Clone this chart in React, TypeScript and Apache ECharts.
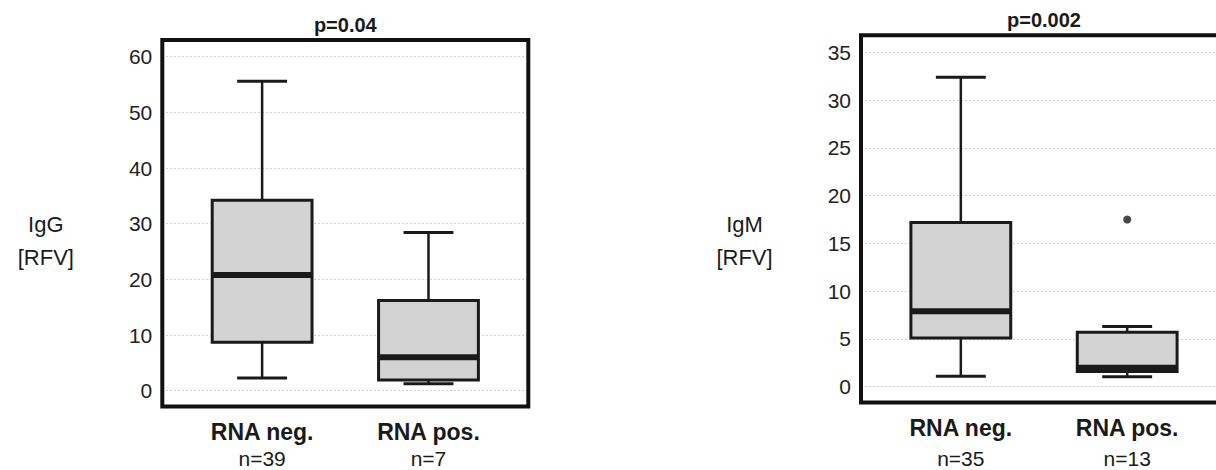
import React, { useEffect, useRef } from "react";
import * as echarts from "echarts";

// ---------- data ----------
const categories = ["RNA neg.", "RNA pos."];
const categoryPositions = [1, 2];
const pValues = ["p=0.04", "p=0.002"];
const yLabels = ["IgG\n[RFV]", "IgM\n[RFV]"];

const igGCounts = [39, 7];
const igMCounts = [35, 13];

// [min, Q1, median, Q3, max]
const igGNeg = [2.3, 8.7, 20.8, 34.2, 55.6];
const igGPos = [1.25, 1.9, 6.0, 16.2, 28.4];
const igMNeg = [1.1, 5.1, 7.9, 17.2, 32.4];
const igMPos = [1.05, 1.6, 1.98, 5.7, 6.3];

const igMPosOutliers = [17.5];

const igGTicks = [0, 10, 20, 30, 40, 50, 60];
const igMTicks = [0, 5, 10, 15, 20, 25, 30, 35];

// ---------- style / layout ----------
const FONT = "'Liberation Sans', Arial, Helvetica, sans-serif";
const INK = "#1a1a1a";
const BOX_FILL = "#d3d3d3";
const BOX_W = 0.6; // in x-axis units
const CAP_W = 0.3;

const panels = [
  { left: 162.3, top: 40, width: 366, height: 366.5, yMin: -2.84, yMax: 63.0, countLineHeight: 22 },
  { left: 861, top: 35.3, width: 366, height: 367.2, yMin: -1.65, yMax: 36.78, countLineHeight: 30 },
];

function renderBox(_params: any, api: any) {
  const x = api.value(0);
  const vals = [1, 2, 3, 4, 5].map((d) => api.value(d));
  const ys = vals.map((v) => api.coord([x, v])[1]);
  const cx = api.coord([x, vals[0]])[0];
  const bw = api.size([BOX_W, 0])[0];
  const cw = api.size([CAP_W, 0])[0];
  const [yMin, yQ1, yMed, yQ3, yMax] = ys;
  const whisker = { stroke: INK, lineWidth: 2.5 };
  const cap = { stroke: INK, lineWidth: 3 };
  return {
    type: "group",
    children: [
      { type: "line", shape: { x1: cx, y1: yMax, x2: cx, y2: yQ3 }, style: whisker },
      { type: "line", shape: { x1: cx, y1: yQ1, x2: cx, y2: yMin }, style: whisker },
      { type: "line", shape: { x1: cx - cw / 2, y1: yMax, x2: cx + cw / 2, y2: yMax }, style: cap },
      { type: "line", shape: { x1: cx - cw / 2, y1: yMin, x2: cx + cw / 2, y2: yMin }, style: cap },
      {
        type: "rect",
        shape: { x: cx - bw / 2, y: yQ3, width: bw, height: yQ1 - yQ3 },
        style: { fill: BOX_FILL, stroke: INK, lineWidth: 3 },
      },
      {
        type: "line",
        shape: { x1: cx - bw / 2, y1: yMed, x2: cx + bw / 2, y2: yMed },
        style: { stroke: INK, lineWidth: 6 },
      },
    ],
  };
}

export default function App() {
  const ref = useRef<HTMLDivElement>(null);

  useEffect(() => {
    if (!ref.current) return;
    const chart = echarts.init(ref.current, undefined, { renderer: "svg" });

    const counts = [igGCounts, igMCounts];
    const ticks = [igGTicks, igMTicks];
    const boxData = [
      [
        [categoryPositions[0], ...igGNeg],
        [categoryPositions[1], ...igGPos],
      ],
      [
        [categoryPositions[0], ...igMNeg],
        [categoryPositions[1], ...igMPos],
      ],
    ];

    const option: any = {
      animation: false,
      backgroundColor: "#ffffff",
      textStyle: { fontFamily: FONT, color: INK },
      grid: panels.map((p) => ({
        left: p.left,
        top: p.top,
        width: p.width,
        height: p.height,
        show: true,
        borderColor: "#111111",
        borderWidth: 4,
        backgroundColor: "transparent",
        containLabel: false,
        outerBoundsMode: "none",
        z: 10,
      })),
      xAxis: panels.map((p, i) => ({
        type: "value",
        gridIndex: i,
        min: 0.4,
        max: 2.6,
        axisLine: { show: false },
        axisTick: { show: false },
        splitLine: { show: false },
        axisLabel: {
          customValues: categoryPositions,
          margin: 10.5,
          formatter: (v: number) => {
            const k = categoryPositions.indexOf(Math.round(v));
            return `{a|${categories[k]}}\n{b|n=${counts[i][k]}}`;
          },
          rich: {
            a: { fontFamily: FONT, fontSize: 23, fontWeight: "bold", lineHeight: 30, color: INK },
            b: { fontFamily: FONT, fontSize: 21, lineHeight: p.countLineHeight, color: INK },
          },
        },
      })),
      yAxis: panels.map((p, i) => ({
        type: "value",
        gridIndex: i,
        min: p.yMin,
        max: p.yMax,
        axisLine: { show: false },
        axisTick: { show: false, customValues: ticks[i] },
        axisLabel: {
          customValues: ticks[i],
          fontFamily: FONT,
          fontSize: 21,
          color: "#222222",
          margin: 10,
        },
        splitLine: {
          show: true,
          lineStyle: { type: [1.5, 2.5], color: "#c4c4c4", width: 1 },
        },
      })),
      series: [
        {
          type: "custom",
          xAxisIndex: 0,
          yAxisIndex: 0,
          renderItem: renderBox,
          encode: { x: 0, y: [1, 2, 3, 4, 5] },
          data: boxData[0],
          z: 2,
        },
        {
          type: "custom",
          xAxisIndex: 1,
          yAxisIndex: 1,
          renderItem: renderBox,
          encode: { x: 0, y: [1, 2, 3, 4, 5] },
          data: boxData[1],
          z: 2,
        },
        {
          type: "scatter",
          xAxisIndex: 1,
          yAxisIndex: 1,
          symbol: "circle",
          symbolSize: 8,
          itemStyle: { color: INK },
          data: igMPosOutliers.map((v) => [categoryPositions[1], v]),
          z: 3,
        },
      ],
      graphic: panels.flatMap((p, i) => [
        {
          type: "text",
          x: p.left + p.width / 2,
          y: p.top - 15,
          style: {
            text: pValues[i],
            fontFamily: FONT,
            fontSize: 20,
            fontWeight: "bold",
            fill: INK,
            align: "center",
            textAlign: "center",
            verticalAlign: "middle",
            textVerticalAlign: "middle",
          },
        },
        {
          type: "text",
          x: p.left - 116.5,
          y: p.top + p.height / 2 + (i === 0 ? 18 : 22),
          style: {
            text: yLabels[i],
            fontFamily: FONT,
            fontSize: 22,
            lineHeight: 33,
            fill: INK,
            align: "center",
            textAlign: "center",
            verticalAlign: "middle",
            textVerticalAlign: "middle",
          },
        },
      ]),
    };

    chart.setOption(option);
    return () => chart.dispose();
  }, []);

  return (
    <div
      ref={ref}
      style={{ position: "fixed", left: 0, top: 0, width: 1216, height: 470, background: "#fff" }}
    />
  );
}
